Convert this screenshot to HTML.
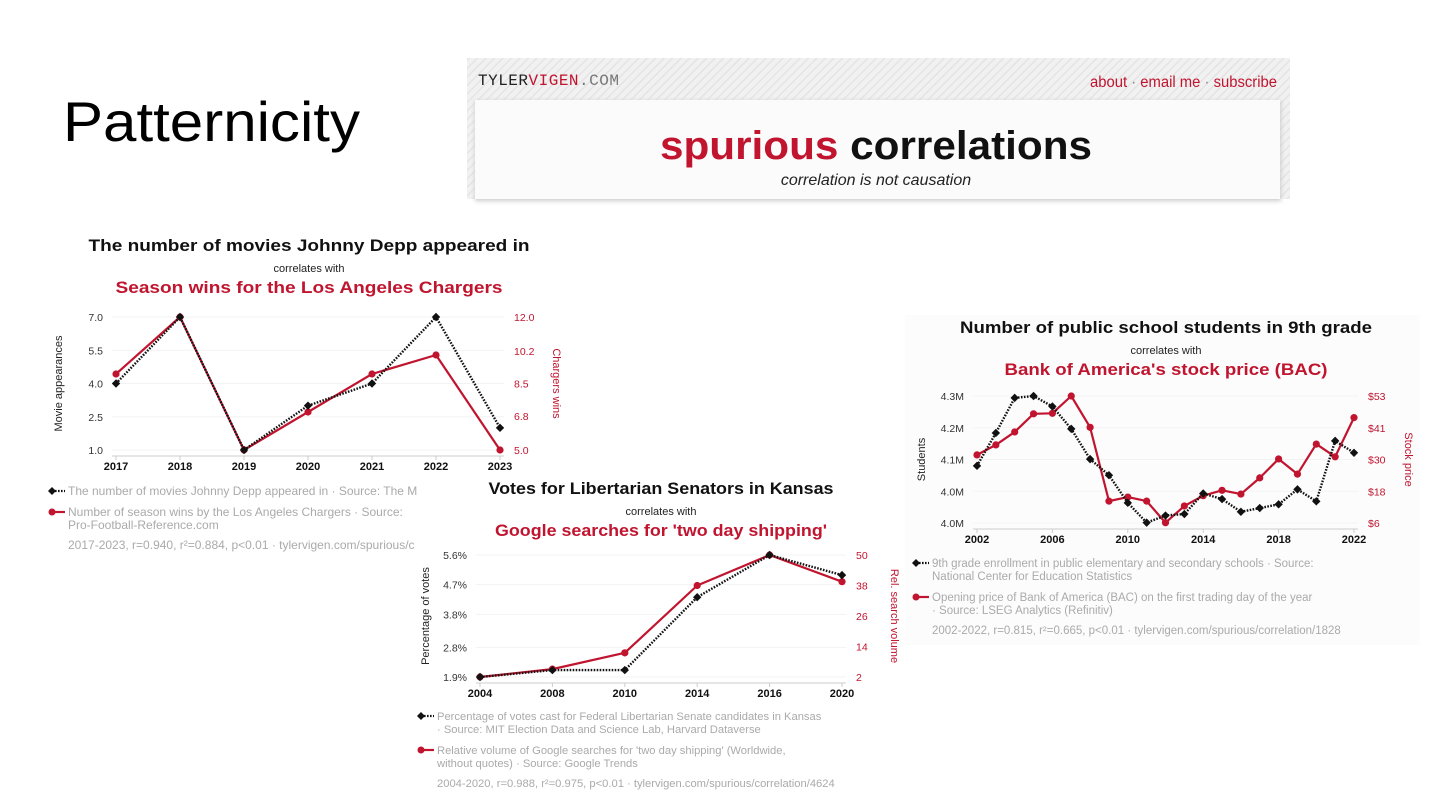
<!DOCTYPE html>
<html><head><meta charset="utf-8"><style>
html,body{margin:0;padding:0;background:#fff;}
svg{display:block;font-family:"Liberation Sans",sans-serif;}
</style></head><body>
<svg id="slide" width="1440" height="810" viewBox="0 0 1440 810" xmlns="http://www.w3.org/2000/svg">
<defs>
<pattern id="stripes" width="6" height="6" patternUnits="userSpaceOnUse" patternTransform="rotate(45)">
<rect width="6" height="6" fill="#f1f1f1"/><rect width="1.5" height="6" fill="#e4e4e4"/>
</pattern>
<filter id="sh" x="-5%" y="-20%" width="110%" height="140%"><feGaussianBlur stdDeviation="2"/></filter>
</defs>
<rect width="1440" height="810" fill="#fff"/>
<text x="63" y="141" font-size="56" fill="#000" textLength="297" lengthAdjust="spacingAndGlyphs">Patternicity</text>

<g>
<rect x="467" y="58" width="823" height="141" fill="url(#stripes)"/>
<rect x="475" y="101" width="806" height="100" fill="#ccc" filter="url(#sh)"/>
<rect x="475" y="100" width="805" height="99" fill="#fbfbfb"/>
<text x="478" y="85" font-size="16" letter-spacing="0.5" fill="#222" font-family="'Liberation Mono',monospace">TYLER<tspan fill="#c0142f">VIGEN</tspan><tspan fill="#777">.COM</tspan></text>
<text x="1277" y="87" font-size="15.5" text-anchor="end" fill="#c0142f" textLength="187" lengthAdjust="spacingAndGlyphs">about <tspan fill="#888">·</tspan> email me <tspan fill="#888">·</tspan> subscribe</text>
<text x="876" y="159" font-size="40" font-weight="bold" text-anchor="middle" textLength="432" lengthAdjust="spacingAndGlyphs"><tspan fill="#c0142f">spurious</tspan><tspan fill="#111"> correlations</tspan></text>
<text x="876" y="185" font-size="16" font-style="italic" text-anchor="middle" fill="#222">correlation is not causation</text>
</g>
<g id="charts"></g>
</svg>
<script>
// Chart 1: Johnny Depp vs Chargers
const deppYears = ["2017","2018","2019","2020","2021","2022","2023"];
const deppMovies = [4,7,1,3,4,7,2];
const chargersWins = [9,12,5,7,9,10,5];
const deppLeftTicks = [1.0,2.5,4.0,5.5,7.0];
const deppRightTicks = [5.0,6.8,8.5,10.2,12.0];

// Chart 2: Libertarian votes vs Google searches
const kansasYears = ["2004","2008","2010","2014","2016","2020"];
const libertarianVotes = [1.9,2.11,2.11,4.32,5.6,4.99];
const shippingSearches = [2,5.1,11.5,38,50,39.5];
const kansasLeftTicks = [1.9,2.8,3.8,4.7,5.6];
const kansasRightTicks = [2,14,26,38,50];

// Chart 3: 9th grade students vs BAC
const bacYears = ["2002","2003","2004","2005","2006","2007","2008","2009","2010","2011","2012","2013","2014","2015","2016","2017","2018","2019","2020","2021","2022"];
const ninthGraders = [4.113,4.201,4.295,4.30,4.272,4.212,4.131,4.088,4.014,3.961,3.980,3.984,4.039,4.024,3.990,4.000,4.010,4.050,4.018,4.180,4.148];
const bacPrice = [31.2,34.9,39.7,46.4,46.6,53,41.4,14.1,15.6,14.1,6.1,12.3,16.1,18.1,16.7,22.7,29.7,24.1,35.2,30.5,45];
const bacLeftTicks = [3.96,4.045,4.13,4.215,4.30];
const bacLeftLabels = ["4.0M","4.0M","4.1M","4.2M","4.3M"];
const bacRightTicks = [6,17.75,29.5,41.25,53];
const bacRightLabels = ["$6","$18","$30","$41","$53"];

const NS = "http://www.w3.org/2000/svg";
const RED = "#c0142f";
function mk(tag, attrs, parent, text){
  const e = document.createElementNS(NS, tag);
  for (const k in attrs) e.setAttribute(k, attrs[k]);
  if (text !== undefined) e.textContent = text;
  parent.appendChild(e);
  return e;
}
function linear(d0,d1,r0,r1){ return v => r0 + (v-d0)/(d1-d0)*(r1-r0); }

function drawChart(c){
  const root = document.getElementById('charts');
  const g = mk('g', {}, root);
  
  
  if (c.bg) mk('rect', {x:c.bg[0],y:c.bg[1],width:c.bg[2],height:c.bg[3],fill:'#fcfcfc'}, g);
  let t = mk('text', {x:c.cx,y:c.titleY,'font-size':17,'font-weight':'bold','text-anchor':'middle',fill:'#111',textLength:c.titleW,lengthAdjust:'spacingAndGlyphs'}, g, c.title);
  
  
  t = mk('text', {x:c.cx,y:c.titleY+21,'font-size':11,'text-anchor':'middle',fill:'#222'}, g, 'correlates with');
  
  
  t = mk('text', {x:c.cx,y:c.titleY+42,'font-size':17,'font-weight':'bold','text-anchor':'middle',fill:RED,textLength:c.subW,lengthAdjust:'spacingAndGlyphs'}, g, c.sub);
  
  

  const n = c.cats.length;
  const xs = i => c.x0 + i*(c.x1-c.x0)/(n-1);
  const yl = linear(c.lDom[0], c.lDom[1], c.yB, c.yT);
  const yr = linear(c.rDom[0], c.rDom[1], c.yB, c.yT);

  c.lTicks.forEach((v,i)=>{
    const y = yl(v);
    const gl = mk('line', {x1:c.x0-4,x2:c.x1+4,y1:y,y2:y,stroke:'#f3f3f3','stroke-width':1}, g);
    
    
    const lt = mk('text', {x:c.x0-13,y:y+4,'font-size':10.5,'text-anchor':'end',fill:'#333'}, g, c.lLabels ? c.lLabels[i] : c.lFmt(v));
    
    
  });
  c.rTicks.forEach((v,i)=>{
    const y = yr(v);
    const rt = mk('text', {x:c.x1+14,y:y+4,'font-size':10.5,'text-anchor':'start',fill:RED}, g, c.rLabels ? c.rLabels[i] : c.rFmt(v));
    
    
  });
  const ax = mk('line', {x1:c.x0-4,x2:c.x1+4,y1:c.yB+6,y2:c.yB+6,stroke:'#ccc','stroke-width':1}, g);
  
  
  c.cats.forEach((cat,i)=>{
    if (c.showX && !c.showX(cat)) return;
    const x = xs(i);
    mk('line', {x1:x,x2:x,y1:c.yB+6,y2:c.yB+10,stroke:'#ccc'}, g);
    const xl = mk('text', {x:x,y:c.yB+20,'font-size':11,'font-weight':'bold','text-anchor':'middle',fill:'#111'}, g, cat);
    
    
  });
  const ymid = (c.yT+c.yB)/2;
  let at = mk('text', {x:0,y:0,'font-size':11,'text-anchor':'middle',fill:'#222',transform:`translate(${c.lTitleX},${ymid}) rotate(-90)`}, g, c.lTitle);
  
  
  at = mk('text', {x:0,y:0,'font-size':11,'text-anchor':'middle',fill:RED,transform:`translate(${c.rTitleX},${ymid}) rotate(90)`}, g, c.rTitle);
  
  

  const rp = c.rVals.map((v,i)=>xs(i)+','+yr(v)).join(' ');
  const rl = mk('polyline', {points:rp,fill:'none',stroke:RED,'stroke-width':2.2,'stroke-linejoin':'round'}, g);
  
  
  c.rVals.forEach((v,i)=>{
    const p = mk('circle', {cx:xs(i),cy:yr(v),r:3.6,fill:RED}, g);
    
    
  });
  const bp = c.lVals.map((v,i)=>xs(i)+','+yl(v)).join(' ');
  const bl = mk('polyline', {points:bp,fill:'none',stroke:'#111','stroke-width':2.4,'stroke-dasharray':'1.6,1.4'}, g);
  
  
  c.lVals.forEach((v,i)=>{
    const x = xs(i), y = yl(v), s = 4.2;
    const p = mk('polygon', {points:`${x},${y-s} ${x+s},${y} ${x},${y+s} ${x-s},${y}`,fill:'#111'}, g);
    
    
  });

  let ly = c.legY;
  const lx = c.legX;
  const fs = c.legFs;
  const lh = 13;
  const l1 = mk('g', {}, g);
  
  
  mk('line', {x1:lx,x2:lx+16,y1:ly-4,y2:ly-4,stroke:'#111','stroke-width':2.2,'stroke-dasharray':'1.6,1.4'}, l1);
  mk('polygon', {points:`${lx+3},${ly-8} ${lx+7},${ly-4} ${lx+3},${ly} ${lx-1},${ly-4}`,fill:'#111'}, l1);
  c.leg1.forEach((s,k)=>mk('text', {x:lx+19,y:ly+k*lh,'font-size':fs,fill:'#aaa'}, l1, s));
  ly += c.leg1.length*lh + 8;
  const l2 = mk('g', {}, g);
  
  
  mk('line', {x1:lx,x2:lx+16,y1:ly-4,y2:ly-4,stroke:RED,'stroke-width':2.2}, l2);
  mk('circle', {cx:lx+3,cy:ly-4,r:3.5,fill:RED}, l2);
  c.leg2.forEach((s,k)=>mk('text', {x:lx+19,y:ly+k*lh,'font-size':fs,fill:'#aaa'}, l2, s));
  ly += c.leg2.length*lh + 7;
  const st = mk('text', {x:lx+19,y:ly,'font-size':fs,fill:'#aaa'}, g, c.stats);
  
  
}

drawChart({
  name:'depp-chargers-chart', cx:309, titleY:251, titleW:441, subW:387,
  title:'The number of movies Johnny Depp appeared in', sub:'Season wins for the Los Angeles Chargers',
  cats:deppYears, x0:116, x1:500, yT:317, yB:450,
  lDom:[1,7], rDom:[5,12], lTicks:deppLeftTicks, rTicks:deppRightTicks,
  lFmt:v=>v.toFixed(1), rFmt:v=>v.toFixed(1),
  lVals:deppMovies, rVals:chargersWins,
  lTitle:'Movie appearances', rTitle:'Chargers wins', lTitleX:62, rTitleX:553,
  legX:49, legY:495, legFs:12,
  leg1:['The number of movies Johnny Depp appeared in · Source: The M'],
  leg2:['Number of season wins by the Los Angeles Chargers · Source:','Pro-Football-Reference.com'],
  stats:'2017-2023, r=0.940, r²=0.884, p<0.01 · tylervigen.com/spurious/c'
});
drawChart({
  name:'libertarian-shipping-chart', cx:661, titleY:494, titleW:345, subW:332,
  title:'Votes for Libertarian Senators in Kansas', sub:"Google searches for 'two day shipping'",
  cats:kansasYears, x0:480, x1:842, yT:555, yB:677,
  lDom:[1.9,5.6], rDom:[2,50], lTicks:kansasLeftTicks, rTicks:kansasRightTicks,
  lFmt:v=>v.toFixed(1)+'%', rFmt:v=>String(v),
  lVals:libertarianVotes, rVals:shippingSearches,
  lTitle:'Percentage of votes', rTitle:'Rel. search volume', lTitleX:429, rTitleX:891,
  legX:418, legY:720, legFs:11.2,
  leg1:['Percentage of votes cast for Federal Libertarian Senate candidates in Kansas',' · Source: MIT Election Data and Science Lab, Harvard Dataverse'],
  leg2:["Relative volume of Google searches for 'two day shipping' (Worldwide,",'without quotes) · Source: Google Trends'],
  stats:'2004-2020, r=0.988, r²=0.975, p<0.01 · tylervigen.com/spurious/correlation/4624'
});
drawChart({
  name:'students-bac-chart', cx:1166, titleY:333, titleW:412, subW:323,
  bg:[905,315,515,330],
  title:'Number of public school students in 9th grade', sub:"Bank of America's stock price (BAC)",
  cats:bacYears, x0:977, x1:1354, yT:396, yB:523,
  lDom:[3.96,4.30], rDom:[6,53], lTicks:bacLeftTicks, rTicks:bacRightTicks,
  lLabels:bacLeftLabels, rLabels:bacRightLabels,
  lVals:ninthGraders, rVals:bacPrice, showX:y=>(+y)%4===2,
  lTitle:'Students', rTitle:'Stock price', lTitleX:925, rTitleX:1405,
  legX:913, legY:567, legFs:11.5,
  leg1:['9th grade enrollment in public elementary and secondary schools · Source:','National Center for Education Statistics'],
  leg2:['Opening price of Bank of America (BAC) on the first trading day of the year',' · Source: LSEG Analytics (Refinitiv)'],
  stats:'2002-2022, r=0.815, r²=0.665, p<0.01 · tylervigen.com/spurious/correlation/1828'
});
</script>
</body></html>
